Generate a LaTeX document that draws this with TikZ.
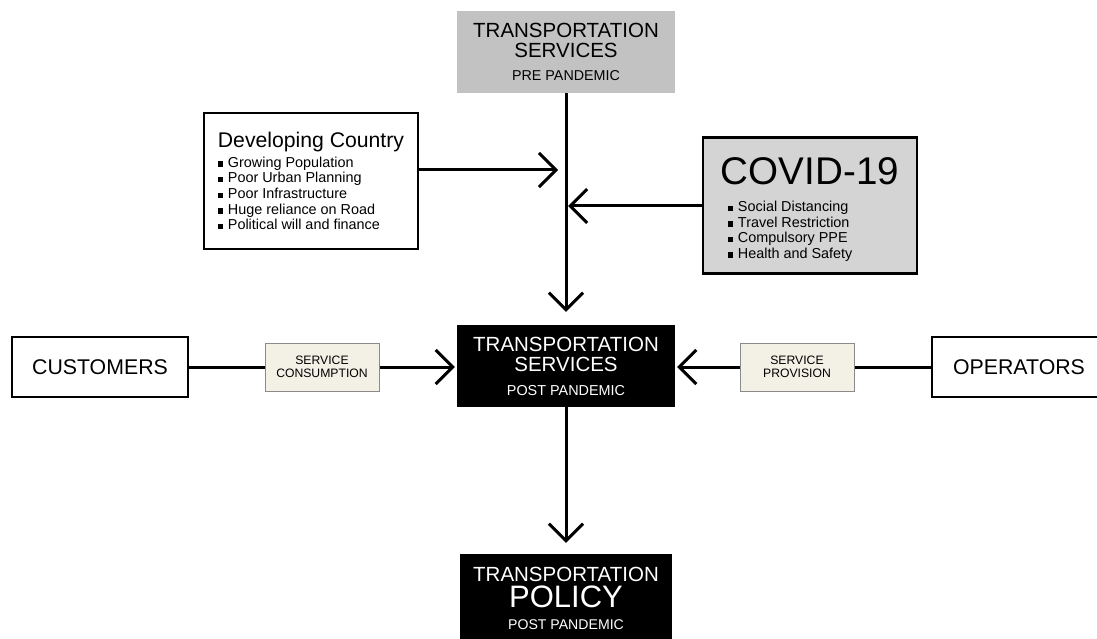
\documentclass[tikz,border=0pt]{standalone}
\usepackage{fontspec}
\setmainfont{Liberation Sans}
\usetikzlibrary{arrows.meta}

\definecolor{pregray}{HTML}{C2C2C2}
\definecolor{covidgray}{HTML}{D4D4D4}
\definecolor{tagfill}{HTML}{F3F0E6}
\definecolor{tagline}{HTML}{8A8A8A}

\newcommand{\sq}{\rule[0.4pt]{5.5pt}{5.5pt}\hspace{4.5pt}}
\newcommand{\fs}[2]{\fontsize{#1}{#2}\selectfont}

\tikzstyle{hub} = [fill=black, text=white, minimum width=218pt, minimum height=82pt, inner sep=0pt, align=center, font=\fs{20.5}{20.5}]
\tikzstyle{pre} = [hub, fill=pregray, text=black]
\tikzstyle{actor} = [draw, line width=2.4pt, fill=white, minimum width=176pt, minimum height=60pt, font=\fs{21.3}{24}]
\tikzstyle{tag} = [draw=tagline, line width=1pt, fill=tagfill, minimum width=114pt, minimum height=48pt, inner sep=0pt, align=center, font=\fs{12.2}{13}]
\tikzstyle{factor} = [draw, line width=2.4pt, minimum width=214pt, minimum height=136pt, inner sep=0pt, align=left, font=\fs{14.4}{15.6}]
\tikzstyle{conn} = [line width=3pt]
\tikzstyle{flow} = [conn, -{Straight Barb[length=17pt,width=34pt]}]

\begin{document}
\begin{tikzpicture}[x=1pt, y=-1pt]
\useasboundingbox (0,0) rectangle (1097,639);

\node[pre] (pre) at (566,52) {TRANSPORTATION\\SERVICES\\[2.5pt]{\fs{14.3}{16}PRE PANDEMIC}};
\node[factor] (dev) at (311,181) {{\fs{21.2}{22}Developing Country}\\[4pt]
    \sq Growing Population\\
    \sq Poor Urban Planning\\
    \sq Poor Infrastructure\\
    \sq Huge reliance on Road\\
    \sq Political will and finance};
\node[factor, fill=covidgray] (covid) at (810,205.5) {{\fs{38.6}{40}\rule{0pt}{35pt}COVID-19}\\[11pt]
    \hspace*{7pt}\sq Social Distancing\\
    \hspace*{7pt}\sq Travel Restriction\\
    \hspace*{7pt}\sq Compulsory PPE\\
    \hspace*{7pt}\sq Health and Safety};
\node[hub] (post) at (566,366) {TRANSPORTATION\\SERVICES\\[3pt]{\fs{14.4}{16}POST PANDEMIC}};
\node[hub, minimum width=212pt, minimum height=89pt] (policy) at (566,598.5) {TRANSPORTATION\\[3pt]{\fs{31}{32}POLICY}\\[2pt]{\fs{14.1}{16}POST PANDEMIC}};
\node[actor] (cust) at (100,367) {CUSTOMERS};
\node[actor, minimum width=174pt] (oper) at (1019,367) {OPERATORS};
\node[tag] (cons) at (322,367) {SERVICE\\CONSUMPTION};
\node[tag] (prov) at (797,367) {SERVICE\\PROVISION};

\coordinate (devin) at (558,170);
\coordinate (covin) at (568,206);

\draw[flow, shorten >=13pt] (pre) -- (post);
\draw[flow] (dev.east |- devin) -- (devin);
\draw[flow] (covid.west |- covin) -- (covin);
\draw[conn] (cust) -- (cons);
\draw[flow, shorten >=2pt] (cons.east) -- (cons.east -| post.west);
\draw[conn] (oper) -- (prov);
\draw[flow, shorten >=2pt] (prov.west) -- (prov.west -| post.east);
\draw[flow, shorten >=11pt] (post) -- (policy);
\end{tikzpicture}
\end{document}
